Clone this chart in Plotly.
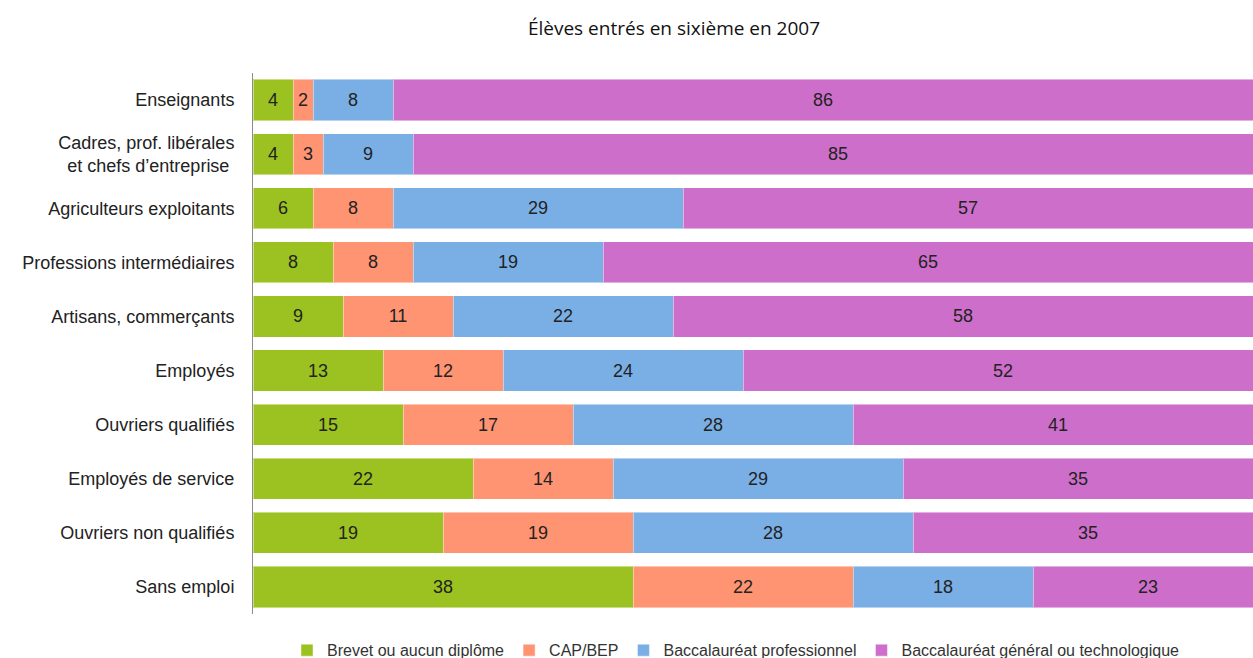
import plotly.graph_objects as go

# Catégorie socioprofessionnelle de la personne de référence
categories = [
    "Enseignants",
    "Cadres, prof. libérales<br>et chefs d’entreprise ",
    "Agriculteurs exploitants",
    "Professions intermédiaires",
    "Artisans, commerçants",
    "Employés",
    "Ouvriers qualifiés",
    "Employés de service",
    "Ouvriers non qualifiés",
    "Sans emploi",
]

# Répartition (%) selon le diplôme obtenu
brevet = [4, 4, 6, 8, 9, 13, 15, 22, 19, 38]
cap_bep = [2, 3, 8, 8, 11, 12, 17, 14, 19, 22]
bac_pro = [8, 9, 29, 19, 22, 24, 28, 29, 28, 18]
bac_gen = [86, 85, 57, 65, 58, 52, 41, 35, 35, 23]

series = [
    ("Brevet ou aucun diplôme", brevet, "#9BC220"),
    ("CAP/BEP", cap_bep, "#FF9473"),
    ("Baccalauréat professionnel", bac_pro, "#7AAFE6"),
    ("Baccalauréat général ou technologique", bac_gen, "#CD6FCA"),
]

FONT = "Liberation Sans, Arial, sans-serif"
LABEL_FONT = dict(family=FONT, size=18, color="#222222")

fig = go.Figure()
last = len(series) - 1
for i, (name, values, color) in enumerate(series):
    fig.add_trace(
        go.Bar(
            name=name,
            y=categories,
            x=values,
            orientation="h",
            marker=dict(color=color, line=dict(color="rgba(255,255,255,0.45)", width=1)),
            # the right-most segment runs past the axis end, so its labels
            # are placed as annotations below
            text=None if i == last else [str(v) for v in values],
            textposition="inside",
            insidetextanchor="middle",
            textangle=0,
            textfont=LABEL_FONT,
            cliponaxis=False,
        )
    )

# centre labels for the right-most segment, positioned on the data scale
for cat, b, c, p, g in zip(categories, brevet, cap_bep, bac_pro, bac_gen):
    start = b + c + p
    fig.add_annotation(
        x=start + g / 2,
        y=cat,
        xref="x",
        yref="y",
        text=str(g),
        showarrow=False,
        font=LABEL_FONT,
    )

fig.update_layout(
    barmode="stack",
    bargap=0.24,
    width=1253,
    height=658,
    margin=dict(l=253, r=0, t=73, b=44, autoexpand=False),
    paper_bgcolor="white",
    plot_bgcolor="white",
    font=dict(family=FONT, size=18, color="#222222"),
    title=dict(
        text="Élèves entrés en sixième en 2007",
        font=dict(family="Open Sans, sans-serif", size=19, color="#111111"),
        x=674 / 1253,
        xanchor="center",
        y=1 - 28 / 658,
        yanchor="middle",
    ),
    showlegend=True,
    legend=dict(
        orientation="h",
        x=0.034,
        xanchor="left",
        y=-0.067,
        yanchor="middle",
        font=dict(family=FONT, size=16, color="#333333"),
        itemwidth=30,
        traceorder="normal",
    ),
    xaxis=dict(
        range=[0, 100],
        showgrid=False,
        zeroline=False,
        showticklabels=False,
        ticks="",
        showline=False,
        fixedrange=True,
    ),
    yaxis=dict(
        categoryorder="array",
        categoryarray=categories,
        autorange="reversed",
        showline=True,
        linecolor="#8c8c8c",
        linewidth=1,
        ticks="",
        ticklabelstandoff=14,
        showgrid=False,
        tickfont=dict(family=FONT, size=18, color="#222222"),
    ),
)

fig.write_html("out.html")
